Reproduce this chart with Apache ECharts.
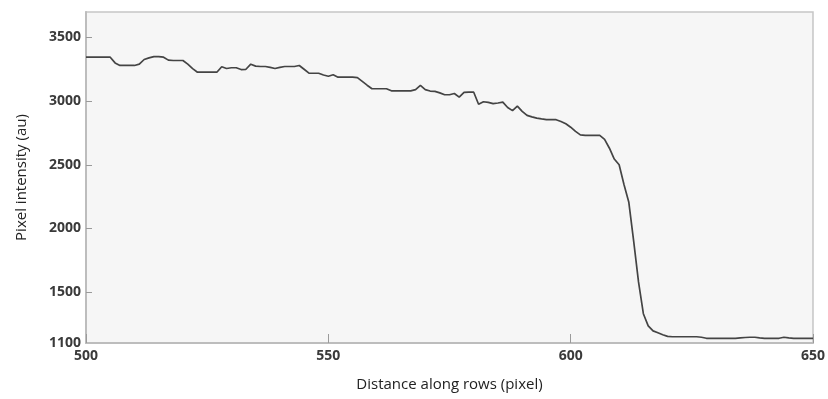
<!DOCTYPE html>
<html>
<head>
<meta charset="utf-8">
<script src="https://cdn.jsdelivr.net/npm/echarts@6/dist/echarts.min.js"></script>
<style>
  html, body { margin: 0; padding: 0; background: #ffffff; }
  #chart { width: 828px; height: 399px; }
</style>
</head>
<body>
<div id="chart"></div>
<script>
// Intensity profile sampled along a row, one value per pixel position.
const positions = [];
for (let p = 500; p <= 650; p++) positions.push(p);

const intensity = [
  3345, 3345, 3345, 3345, 3345, 3345, 3300, 3280, 3280, 3280, // 500-509
  3280, 3290, 3327, 3340, 3350, 3350, 3345, 3322, 3319, 3319, // 510-519
  3319, 3290, 3255, 3227, 3227, 3227, 3227, 3227, 3270, 3256, // 520-529
  3262, 3262, 3248, 3250, 3290, 3275, 3272, 3272, 3265, 3256, // 530-539
  3265, 3272, 3272, 3272, 3280, 3250, 3220, 3219, 3219, 3205, // 540-549
  3195, 3207, 3188, 3188, 3188, 3188, 3185, 3155, 3125, 3097, // 550-559
  3097, 3097, 3097, 3081, 3081, 3081, 3081, 3081, 3090, 3123, // 560-569
  3090, 3079, 3076, 3065, 3050, 3050, 3060, 3031, 3068, 3070, // 570-579
  3070, 2975, 2995, 2990, 2980, 2985, 2992, 2950, 2925, 2960, // 580-589
  2920, 2888, 2876, 2866, 2860, 2855, 2854, 2854, 2840, 2822, // 590-599
  2795, 2762, 2735, 2731, 2731, 2731, 2731, 2700, 2630, 2545, // 600-609
  2500, 2345, 2205, 1900, 1580, 1330, 1235, 1195, 1180, 1165, // 610-619
  1152, 1149, 1149, 1149, 1149, 1149, 1149, 1145, 1137, 1137, // 620-629
  1137, 1137, 1137, 1137, 1137, 1140, 1143, 1145, 1145, 1140, // 630-639
  1137, 1137, 1137, 1137, 1145, 1140, 1137, 1137, 1137, 1137, // 640-649
  1137                                                        // 650
];

const xTicks = [500, 550, 600, 650];
const yTicks = [1100, 1500, 2000, 2500, 3000, 3500];

const xTitle = 'Distance along rows (pixel)';
const yTitle = 'Pixel intensity (au)';

const seriesData = positions.map((p, i) => [p, intensity[i]]);

const tickFont = {
  fontFamily: '"Open Sans", "Noto Sans", sans-serif',
  fontSize: 14,
  fontWeight: 'bold',
  color: '#3a3a3a'
};
const titleFont = {
  fontFamily: '"Open Sans", "Noto Sans", sans-serif',
  fontSize: 15,
  fontWeight: 'normal',
  color: '#222222'
};

const plain = v => String(v);

const chart = echarts.init(document.getElementById('chart'), null, { renderer: 'canvas' });

chart.setOption({
  animation: false,
  backgroundColor: '#ffffff',
  grid: {
    left: 86, right: 14, top: 12, bottom: 56,
    show: true,
    backgroundColor: '#f6f6f6',
    borderColor: '#c6c6c6',
    borderWidth: 1.5
  },
  xAxis: {
    type: 'value',
    min: 500, max: 650, interval: 50,
    name: xTitle,
    nameLocation: 'middle',
    nameGap: 34,
    nameTextStyle: titleFont,
    axisLine: { show: true, lineStyle: { color: '#bdbdbd', width: 2 } },
    axisTick: { show: true, inside: true, length: 9, lineStyle: { color: '#9a9a9a', width: 1 } },
    axisLabel: Object.assign({ margin: 6, customValues: xTicks, formatter: plain }, tickFont),
    splitLine: { show: false }
  },
  yAxis: {
    type: 'value',
    min: 1100, max: 3700,
    name: yTitle,
    nameLocation: 'middle',
    nameGap: 57,
    nameTextStyle: titleFont,
    axisLine: { show: true, lineStyle: { color: '#bdbdbd', width: 2 } },
    axisTick: { show: true, inside: true, length: 6, customValues: yTicks.slice(1), lineStyle: { color: '#9a9a9a', width: 1 } },
    axisLabel: Object.assign({ margin: 5, customValues: yTicks, formatter: plain }, tickFont),
    splitLine: { show: false }
  },
  series: [{
    type: 'line',
    data: seriesData,
    showSymbol: false,
    symbol: 'none',
    smooth: false,
    lineStyle: { color: '#444444', width: 1.7 }
  }]
});
</script>
</body>
</html>
